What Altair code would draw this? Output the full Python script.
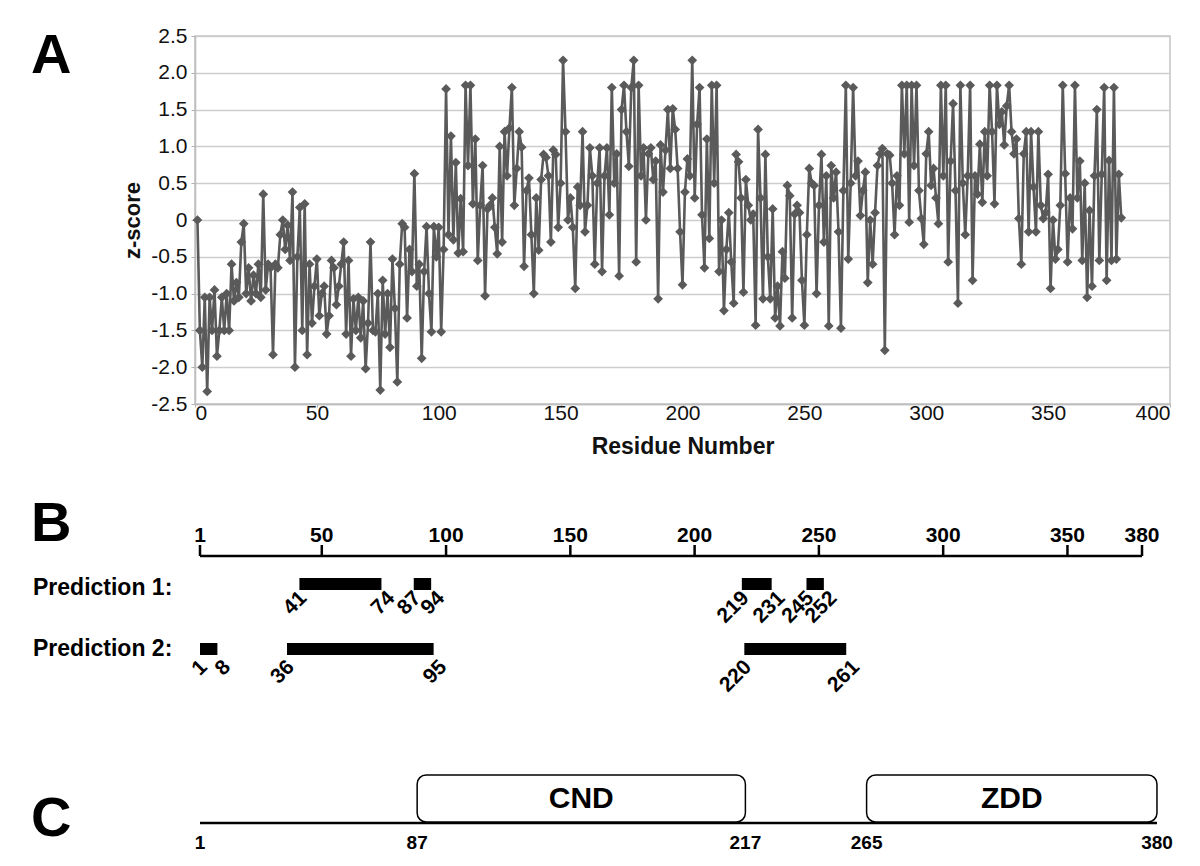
import altair as alt
import pandas as pd

# ---------------- data ----------------
residues = list(range(1, 381))
z_001_020 = [0.0, -1.5, -2.0, -1.05, -2.33, -1.05, -1.5, -0.95, -1.85, -1.5, -1.05, -1.5, -1.0, -1.5, -0.6, -1.1, -0.85, -1.05, -0.3, -0.05]
z_021_040 = [-1.0, -0.65, -1.1, -0.75, -1.0, -0.6, -1.05, 0.35, -0.95, -0.6, -0.65, -1.83, -0.6, -0.65, -0.2, 0.0, -0.4, -0.07, -0.55, 0.38]
z_041_060 = [-2.0, -0.5, 0.17, -1.5, 0.22, -1.83, -0.6, -1.4, -0.9, -0.53, -1.3, -1.0, -0.9, -1.55, -1.3, -0.55, -0.65, -1.15, -0.9, -0.6]
z_061_080 = [-0.3, -1.55, -0.55, -1.85, -1.07, -1.5, -1.05, -1.6, -1.1, -2.02, -1.4, -0.3, -1.5, -1.52, -1.0, -2.31, -0.82, -1.55, -1.0, -1.73]
z_081_100 = [-0.53, -1.2, -2.2, -0.6, -0.05, -0.1, -1.33, -0.4, -0.7, 0.63, -0.9, -0.6, -1.88, -0.7, -0.09, -1.0, -1.52, -0.09, -0.5, -0.1]
z_101_120 = [-1.52, -0.4, 1.78, -0.2, 1.14, -0.27, 0.78, -0.45, 0.29, -0.43, 1.83, 0.74, 1.83, 0.22, 1.1, -0.55, 0.2, 0.74, -1.03, 0.15]
z_121_140 = [0.2, 0.3, -0.1, -0.46, 1.0, -0.3, 1.2, 0.6, 1.25, 1.8, 0.2, 0.7, 1.2, 0.99, -0.63, 0.4, 0.57, -0.2, -1.0, 0.3]
z_141_160 = [-0.41, 0.55, 0.89, 0.85, 0.6, -0.3, 0.95, 0.89, -0.1, 0.5, 2.17, 1.2, 0.0, 0.3, -0.1, -0.93, 0.45, 0.2, 1.2, -0.16]
z_161_180 = [0.2, 0.98, 0.6, -0.6, 0.5, 0.98, -0.7, 0.6, 0.98, 0.07, 1.8, 0.5, 0.9, -0.76, 1.5, 1.83, 1.2, 0.73, 1.8, 2.17]
z_181_200 = [-0.57, 1.83, 0.6, 0.98, 0.0, 0.9, 0.98, 0.55, 0.8, -1.07, 1.02, 0.38, 0.95, 1.5, 0.7, 1.51, 1.23, 0.7, -0.16, -0.88]
z_201_220 = [0.38, 0.83, 0.6, 2.17, 0.3, 1.3, 1.8, 0.07, -0.65, 1.1, -0.25, 1.83, 0.5, 1.83, -0.7, 0.0, -1.23, -0.4, 0.1, -0.57]
z_221_240 = [-1.13, 0.89, 0.79, 0.3, -0.98, 0.55, 0.2, 0.0, 0.08, -1.43, 1.23, 0.3, -1.07, 0.89, -0.5, -1.07, 0.15, -1.33, -0.9, -1.44]
z_241_260 = [-0.43, -0.79, 0.47, 0.33, -1.33, 0.08, 0.2, 0.1, -0.82, -1.43, -0.2, 0.7, 0.5, 0.47, -1.0, 0.2, 0.89, -0.3, 0.6, -1.44]
z_261_280 = [0.74, 0.3, 0.65, -0.16, -1.47, 0.4, 1.83, -0.53, 0.5, 1.8, 0.6, 0.8, 0.06, 0.4, 0.65, -0.85, 0.0, -0.6, 0.1, 0.74]
z_281_300 = [0.9, 0.97, -1.77, 0.9, 0.88, 0.5, -0.2, 0.6, 0.2, 1.83, 0.9, 1.83, -0.03, 1.83, 0.74, 1.83, 0.4, 0.02, -0.33, 0.9]
z_301_320 = [1.2, 0.47, 0.7, 0.3, -0.05, 1.83, 0.6, 1.83, -0.57, 0.8, 1.58, 0.4, -1.13, 1.83, 0.5, -0.2, 0.6, 1.83, -0.82, 0.6]
z_321_340 = [0.35, 1.03, 0.24, 1.2, 0.6, 1.83, 1.2, 0.22, 1.83, 1.3, 1.47, 1.02, 1.55, 1.83, 1.2, 0.9, 1.1, 0.02, -0.6, 0.9]
z_341_360 = [1.2, -0.16, 1.2, 0.45, -0.16, 1.2, 0.2, 0.02, 0.1, 0.62, -0.93, 0.0, -0.53, -0.4, 0.2, 1.83, 0.63, -0.57, 0.3, -0.12]
z_361_380 = [1.83, 0.3, 0.8, -0.55, 0.5, -1.05, 0.13, -0.9, 0.6, 1.5, -0.55, 0.62, 1.8, -0.82, 0.81, -0.55, 1.8, -0.53, 0.62, 0.03]
z_scores = (z_001_020 + z_021_040 + z_041_060 + z_061_080 + z_081_100 + z_101_120 + z_121_140
            + z_141_160 + z_161_180 + z_181_200 + z_201_220 + z_221_240 + z_241_260 + z_261_280
            + z_281_300 + z_301_320 + z_321_340 + z_341_360 + z_361_380)
assert len(z_scores) == len(residues)

x_ticks_A = [0, 50, 100, 150, 200, 250, 300, 350, 400]
y_ticks_A = [-2.5, -2.0, -1.5, -1.0, -0.5, 0.0, 0.5, 1.0, 1.5, 2.0, 2.5]

ruler_ticks = [1, 50, 100, 150, 200, 250, 300, 350, 380]
protein_length = 380
pred_names = ["Prediction 1:", "Prediction 2:"]
pred1_start = [41, 87, 219, 245]
pred1_end = [74, 94, 231, 252]
pred2_start = [1, 36, 220]
pred2_end = [8, 95, 261]

domain_names = ["CND", "ZDD"]
domain_start = [87, 265]
domain_end = [217, 380]
domain_marks = [1, 87, 217, 265, 380]

panel_letters = ["A", "B", "C"]

# ---------------- styles ----------------
SANS = "Liberation Sans, Arial, sans-serif"
LINE_COL = "#5a5a5a"
GRID_COL = "#cdcdcd"
LEFT_X = -164

# ---------------- panel A ----------------
dfA = pd.DataFrame({"res": residues, "z": z_scores})
xA = alt.X("res:Q", scale=alt.Scale(domain=[0, 400], nice=False, zero=False),
           axis=alt.Axis(values=x_ticks_A, tickCount=len(x_ticks_A), title="Residue Number", grid=False,
                         labelFontSize=21, labelFont=SANS, labelColor="#111", labelOverlap=False,
                         titleFontSize=23, titleFont=SANS, titleFontWeight="bold", titleColor="#111",
                         titlePadding=12, tickSize=3, tickColor="#b0b0b0", labelPadding=-5,
                         domainColor="#bdbdbd", domainWidth=1.5))
yA = alt.Y("z:Q", scale=alt.Scale(domain=[-2.5, 2.5], nice=False, zero=False),
           axis=alt.Axis(values=y_ticks_A, tickCount=len(y_ticks_A), title="z-score", grid=True,
                         gridColor=GRID_COL, gridWidth=1.5,
                         labelExpr="datum.value == 0 ? '0' : (datum.value < 0 ? '-' + format(-datum.value, '.1f') : format(datum.value, '.1f'))",
                         labelFontSize=21, labelFont=SANS, labelColor="#111", labelOverlap=False,
                         titleFontSize=22, titleFont=SANS, titleFontWeight="bold", titleColor="#111",
                         titlePadding=6, tickSize=4, tickColor="#b0b0b0", labelPadding=4,
                         domainColor="#bdbdbd", domainWidth=1.5))

lineA = alt.Chart(dfA).mark_line(color=LINE_COL, strokeWidth=2.6).encode(x=xA, y=yA)
ptsA = alt.Chart(dfA).mark_point(shape="diamond", filled=True, size=95, color=LINE_COL, opacity=1).encode(
    x=xA, y=yA)
letterA = alt.Chart(pd.DataFrame({"t": [panel_letters[0]]})).mark_text(
    fontSize=56, fontWeight="bold", font=SANS, align="left", baseline="middle", color="black").encode(
    text="t:N", x=alt.value(LEFT_X), y=alt.value(20))
panelA = alt.layer(lineA, ptsA, letterA).properties(
    width=975, height=368, view=alt.ViewBackground(stroke="#c4c4c4", strokeWidth=1.5))

# ---------------- panel B ----------------
scaleB = alt.Scale(domain=[-1.01, 391.26], nice=False, zero=False)
dfRuler = pd.DataFrame({"s": [1], "e": [protein_length]})
dfTicks = pd.DataFrame({"pos": ruler_ticks, "lab": [str(v) for v in ruler_ticks]})

ruler_line = alt.Chart(dfRuler).mark_rule(color="black", strokeWidth=2.5).encode(
    x=alt.X("s:Q", scale=scaleB, axis=None), x2="e:Q", y=alt.value(97))
ruler_tick = alt.Chart(dfTicks).mark_rule(color="black", strokeWidth=2.5).encode(
    x=alt.X("pos:Q", scale=scaleB, axis=None), y=alt.value(86), y2=alt.value(97))
ruler_lab = alt.Chart(dfTicks).mark_text(fontSize=21, fontWeight="bold", font=SANS, baseline="middle").encode(
    x=alt.X("pos:Q", scale=scaleB, axis=None), y=alt.value(77), text="lab:N")

pred_rows_y = [125, 190]
pred_text_y = [129, 190]
pred_lab_y = [136, 205]
pred_sets = [(pred1_start, pred1_end), (pred2_start, pred2_end)]

layersB = [ruler_line, ruler_tick, ruler_lab]
for i, (st, en) in enumerate(pred_sets):
    dfp = pd.DataFrame({"s": st, "e": en})
    layersB.append(alt.Chart(dfp).mark_rule(color="black", strokeWidth=12, strokeCap="butt").encode(
        x=alt.X("s:Q", scale=scaleB, axis=None), x2="e:Q", y=alt.value(pred_rows_y[i])))
    # start labels sit a little left, end labels a little right of the bar ends
    layersB.append(alt.Chart(pd.DataFrame({"pos": st, "lab": [str(v) for v in st]})).mark_text(
        fontSize=21, fontWeight="bold", font=SANS, angle=315, align="right", baseline="middle", xOffset=4).encode(
        x=alt.X("pos:Q", scale=scaleB, axis=None), y=alt.value(pred_lab_y[i]), text="lab:N"))
    layersB.append(alt.Chart(pd.DataFrame({"pos": en, "lab": [str(v) for v in en]})).mark_text(
        fontSize=21, fontWeight="bold", font=SANS, angle=315, align="right", baseline="middle", xOffset=10).encode(
        x=alt.X("pos:Q", scale=scaleB, axis=None), y=alt.value(pred_lab_y[i]), text="lab:N"))
    layersB.append(alt.Chart(pd.DataFrame({"t": [pred_names[i]]})).mark_text(
        fontSize=23, fontWeight="bold", font=SANS, align="left", baseline="middle").encode(
        text="t:N", x=alt.value(-162), y=alt.value(pred_text_y[i])))
layersB.append(alt.Chart(pd.DataFrame({"t": [panel_letters[1]]})).mark_text(
    fontSize=56, fontWeight="bold", font=SANS, align="left", baseline="middle").encode(
    text="t:N", x=alt.value(LEFT_X), y=alt.value(65)))
panelB = alt.layer(*layersB).properties(width=975, height=308, view=alt.ViewBackground(stroke=None))

# ---------------- panel C ----------------
scaleC = alt.Scale(domain=[-0.98, 385.16], nice=False, zero=False)
dfDom = pd.DataFrame({"name": domain_names, "s": domain_start, "e": domain_end})
dfMarks = pd.DataFrame({"pos": domain_marks, "lab": [str(v) for v in domain_marks]})

c_line = alt.Chart(dfRuler).mark_rule(color="black", strokeWidth=2.5).encode(
    x=alt.X("s:Q", scale=scaleC, axis=None), x2="e:Q", y=alt.value(56))
c_box = alt.Chart(dfDom).mark_rect(fill="white", stroke="black", strokeWidth=1.5, cornerRadius=9).encode(
    x=alt.X("s:Q", scale=scaleC, axis=None), x2="e:Q", y=alt.value(8), y2=alt.value(55))
c_name = alt.Chart(dfDom).transform_calculate(mid="(datum.s + datum.e) / 2").mark_text(
    fontSize=30, fontWeight="bold", font=SANS, baseline="middle").encode(
    x=alt.X("mid:Q", scale=scaleC, axis=None), y=alt.value(32), text="name:N")
c_marks = alt.Chart(dfMarks).mark_text(fontSize=19, fontWeight="bold", font=SANS, baseline="middle").encode(
    x=alt.X("pos:Q", scale=scaleC, axis=None), y=alt.value(76), text="lab:N")
c_letter = alt.Chart(pd.DataFrame({"t": [panel_letters[2]]})).mark_text(
    fontSize=56, fontWeight="bold", font=SANS, align="left", baseline="middle").encode(
    text="t:N", x=alt.value(LEFT_X), y=alt.value(52))
panelC = alt.layer(c_line, c_box, c_name, c_marks, c_letter).properties(
    width=975, height=90, view=alt.ViewBackground(stroke=None))

chart = alt.vconcat(panelA, panelB, panelC, spacing=0).properties(
    padding={"left": 22, "top": 16, "right": 5, "bottom": 5}, background="white"
).configure_view(strokeWidth=0)

chart.save("out.html", embed_options={"renderer": "svg", "actions": False})
